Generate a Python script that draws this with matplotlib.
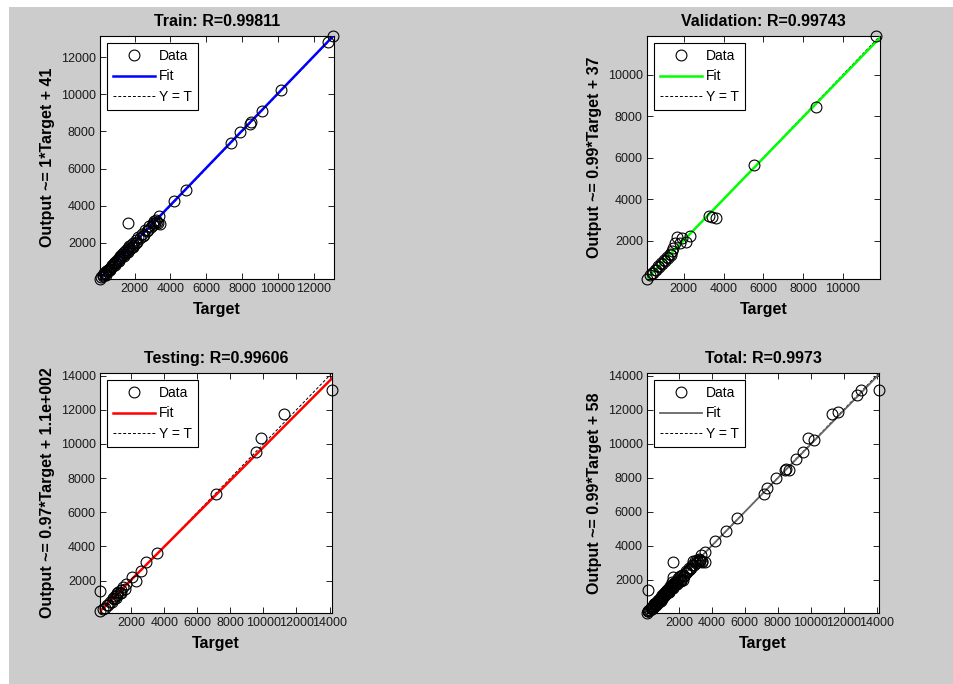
import matplotlib
matplotlib.use("Agg")
import matplotlib.pyplot as plt
from matplotlib.lines import Line2D
import numpy as np

plt.rcParams['font.family'] = ['Liberation Sans', 'DejaVu Sans']

# ---------------- data ----------------
train_t = [60, 120, 200, 250, 300, 350, 400, 420, 480, 520, 560, 600, 650, 700, 740, 780,
           820, 870, 900, 950, 1000, 1050, 1100, 1150, 1200, 1250, 1300, 1350, 1400, 1450,
           1500, 1550, 1600, 1650, 1700, 1750, 1800, 1850, 1900, 1950, 2050, 2100, 2200,
           2300, 2400, 2500, 2600, 2700, 2800, 2900, 3000, 3050, 3100, 3150, 3200, 3300,
           3360, 3410, 1620, 4200, 4860, 7370, 7900, 8450, 8520, 9120, 10190, 12830, 13070,
           380, 640, 880, 1120, 1380, 1620, 1880, 2150, 2450, 2750, 3250]
train_y = [80, 150, 260, 230, 380, 330, 470, 400, 560, 500, 620, 580, 720, 680, 800, 760,
           900, 850, 980, 930, 1080, 1020, 1180, 1120, 1300, 1230, 1420, 1330, 1500, 1430,
           1620, 1520, 1720, 1600, 1820, 1700, 1900, 1780, 2000, 1900, 2150, 2020, 2300,
           2250, 2500, 2450, 2700, 2650, 2900, 2850, 3100, 2980, 3200, 3050, 3250, 3100,
           3470, 3040, 3080, 4260, 4870, 7380, 7970, 8430, 8500, 9080, 10210, 12840, 13140,
           300, 560, 790, 1040, 1290, 1520, 1760, 2060, 2380, 2700, 3150]

val_t = [150, 300, 400, 450, 550, 600, 700, 750, 850, 900, 1000, 1050, 1150, 1200, 1300,
         1350, 1400, 1460, 1550, 1660, 1800, 1930, 2130, 2300, 3260, 3400, 3600, 5530,
         8660, 11650]
val_y = [150, 330, 450, 420, 600, 560, 760, 720, 900, 870, 1060, 1000, 1230, 1150, 1370,
         1300, 1480, 1630, 1870, 2160, 1900, 2110, 1950, 2240, 3190, 3120, 3080, 5660,
         8430, 11860]

test_t = [100, 110, 300, 400, 500, 600, 700, 800, 900, 950, 1000, 1050, 1100, 1150, 1200,
          1300, 1350, 1400, 1500, 1600, 1700, 2040, 2260, 2600, 2870, 3570, 7140, 9520,
          9820, 11270, 14150]
test_y = [200, 1400, 350, 380, 560, 540, 750, 720, 980, 900, 1100, 1000, 1250, 1150, 1350,
          1250, 1450, 1300, 1600, 1500, 1820, 2220, 2000, 2570, 3090, 3620, 7040, 9500,
          10330, 11730, 13160]

titles = ["Train: R=0.99811", "Validation: R=0.99743", "Testing: R=0.99606", "Total: R=0.9973"]
ylabels = ["Output ~= 1*Target + 41", "Output ~= 0.99*Target + 37",
           "Output ~= 0.97*Target + 1.1e+002", "Output ~= 0.99*Target + 58"]
fit_m = [1.0, 0.99, 0.97, 0.99]
fit_b = [41, 37, 110, 58]
fit_colors = ["#0000ff", "#00ff00", "#ff0000", "#666666"]
xticks_list = [[2000, 4000, 6000, 8000, 10000, 12000],
               [2000, 4000, 6000, 8000, 10000],
               [2000, 4000, 6000, 8000, 10000, 12000, 14000],
               [2000, 4000, 6000, 8000, 10000, 12000, 14000]]

total_t = train_t + val_t + test_t
total_y = train_y + val_y + test_y
sets = [(train_t, train_y), (val_t, val_y), (test_t, test_y), (total_t, total_y)]

# axes boxes in pixels (left, top, right, bottom)
W, H = 954, 684
boxes = [(100, 36, 334, 279), (647, 36, 880, 279), (100, 373, 332, 613), (647, 373, 879, 613)]

fig = plt.figure(figsize=(W / 100, H / 100), dpi=100, facecolor="white")
bg = plt.Rectangle((9 / W, 0), 1 - 9 / W, 1 - 7 / H, transform=fig.transFigure,
                   facecolor="#cccccc", edgecolor="none", zorder=-10)
fig.patches.append(bg)

for i in range(4):
    l, t, r, b = boxes[i]
    ax = fig.add_axes([l / W, 1 - b / H, (r - l) / W, (b - t) / H], zorder=1)
    ax.set_facecolor("white")
    tt = np.array(sets[i][0], dtype=float)
    yy = np.array(sets[i][1], dtype=float)
    lo = min(tt.min(), yy.min())
    hi = max(tt.max(), yy.max())
    lim = np.array([lo, hi])
    ax.plot(lim, lim, linestyle=(0, (3, 2)), color="black", lw=0.7, zorder=2)
    ax.plot(lim, lim * fit_m[i] + fit_b[i], color=fit_colors[i],
            lw=1.8 if i < 3 else 1.3, zorder=3)
    ax.plot(tt, yy, linestyle="none", marker="o", markersize=7.8, mfc="none",
            mec="black", mew=0.8, zorder=4, clip_on=False)
    ax.set_xlim(lo, hi)
    ax.set_ylim(lo, hi)
    ax.set_xticks(xticks_list[i])
    ax.set_yticks(xticks_list[i])
    ax.tick_params(direction="in", length=4, width=0.6, labelsize=9, top=True, right=True,
                   pad=3, colors="black", labelcolor="#1a1a1a")
    for s in ax.spines.values():
        s.set_linewidth(0.8)
    ax.set_title(titles[i], fontsize=11.5, fontweight="bold", pad=7)
    ax.set_xlabel("Target", fontsize=11.5, fontweight="bold", labelpad=5)
    ax.set_ylabel(ylabels[i], fontsize=11.5, fontweight="bold", labelpad=4)
    handles = [Line2D([], [], linestyle="none", marker="o", markersize=7.8, mfc="none",
                      mec="black", mew=0.8),
               Line2D([], [], color=fit_colors[i], lw=1.8 if i < 3 else 1.3),
               Line2D([], [], color="black", lw=0.7, linestyle=(0, (3, 2)))]
    leg = ax.legend(handles, ["Data", "Fit", "Y = T"], loc="upper left", fontsize=10,
                    frameon=True, fancybox=False, edgecolor="black", framealpha=1,
                    handlelength=3.0, handletextpad=0.3, borderpad=0.45, labelspacing=0.45,
                    borderaxespad=0.5)
    leg.get_frame().set_linewidth(0.8)

fig.savefig("out.png", dpi=100, facecolor=fig.get_facecolor())
